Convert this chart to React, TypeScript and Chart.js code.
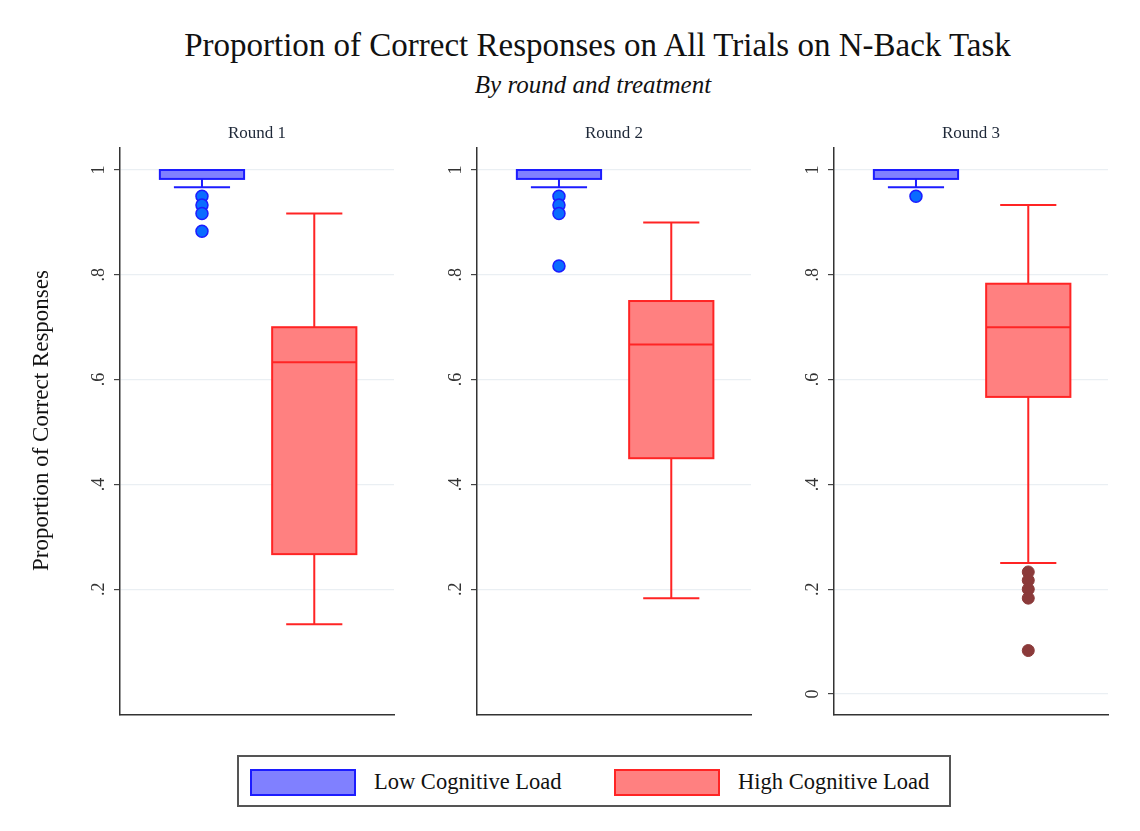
import React, { useEffect, useRef } from "react";
import { Chart, registerables } from "chart.js";

Chart.register(...registerables);

// ---------- data ----------
const ROUNDS = ["Round 1", "Round 2", "Round 3"];
const GROUPS = ["Low Cognitive Load", "High Cognitive Load"];
const GROUP_POS = [1, 2];

const LOW_WHISKER_LO = [0.967, 0.967, 0.967];
const LOW_Q1 = [0.983, 0.983, 0.983];
const LOW_MEDIAN = [1, 1, 1];
const LOW_Q3 = [1, 1, 1];
const LOW_WHISKER_HI = [1, 1, 1];
const LOW_OUTLIERS = [
  [0.95, 0.933, 0.917, 0.883],
  [0.95, 0.933, 0.917, 0.817],
  [0.95],
];

const HIGH_WHISKER_LO = [0.133, 0.183, 0.25];
const HIGH_Q1 = [0.267, 0.45, 0.567];
const HIGH_MEDIAN = [0.633, 0.667, 0.7];
const HIGH_Q3 = [0.7, 0.75, 0.783];
const HIGH_WHISKER_HI = [0.917, 0.9, 0.933];
const HIGH_OUTLIERS = [[], [], [0.233, 0.217, 0.2, 0.183, 0.083]];

const Y_TICKS = [
  [0.2, 0.4, 0.6, 0.8, 1],
  [0.2, 0.4, 0.6, 0.8, 1],
  [0, 0.2, 0.4, 0.6, 0.8, 1],
];
const Y_TITLE = "Proportion of Correct Responses";
const TITLE = "Proportion of Correct Responses on All Trials on N-Back Task";
const SUBTITLE = "By round and treatment";

// ---------- styles ----------
const FONT = '"Liberation Serif", "DejaVu Serif", serif';
const BLUE_FILL = "#8080ff";
const BLUE_LINE = "#1c1cff";
const BLUE_DOT = "#0a6cff";
const RED_FILL = "#ff8080";
const RED_LINE = "#ff2424";
const RED_DOT = "#8b3a3a";
const BOX_HALF = 0.375;
const CAP_HALF = 0.25;
const AXIS_X = [120, 477, 834];
const PLOT_W = 274;
const LEFT_W = 110;
const PANEL_TOP = 120;
const PANEL_H = 605;

function fmtTick(v: number) {
  if (v === 0) return "0";
  if (v === 1) return "1";
  return "." + Math.round(v * 10);
}

function makePanelPlugin(i: number) {
  return {
    id: "boxpanel" + i,
    beforeDatasetsDraw(chart: any) {
      const ctx = chart.ctx;
      const xs = chart.scales.x;
      const ys = chart.scales.y;
      const groups = [
        { lo: LOW_WHISKER_LO[i], q1: LOW_Q1[i], med: LOW_MEDIAN[i], q3: LOW_Q3[i], hi: LOW_WHISKER_HI[i], fill: BLUE_FILL, line: BLUE_LINE },
        { lo: HIGH_WHISKER_LO[i], q1: HIGH_Q1[i], med: HIGH_MEDIAN[i], q3: HIGH_Q3[i], hi: HIGH_WHISKER_HI[i], fill: RED_FILL, line: RED_LINE },
      ];
      groups.forEach((g, gi) => {
        const pos = GROUP_POS[gi];
        const cx = xs.getPixelForValue(pos);
        const bl = xs.getPixelForValue(pos - BOX_HALF);
        const br = xs.getPixelForValue(pos + BOX_HALF);
        const cl = xs.getPixelForValue(pos - CAP_HALF);
        const cr = xs.getPixelForValue(pos + CAP_HALF);
        const yLo = ys.getPixelForValue(g.lo);
        const yQ1 = ys.getPixelForValue(g.q1);
        const yMed = ys.getPixelForValue(g.med);
        const yQ3 = ys.getPixelForValue(g.q3);
        const yHi = ys.getPixelForValue(g.hi);
        ctx.save();
        ctx.strokeStyle = g.line;
        ctx.lineWidth = 2;
        ctx.beginPath();
        ctx.moveTo(cx, yQ1);
        ctx.lineTo(cx, yLo);
        ctx.moveTo(cl, yLo);
        ctx.lineTo(cr, yLo);
        ctx.moveTo(cx, yQ3);
        ctx.lineTo(cx, yHi);
        ctx.moveTo(cl, yHi);
        ctx.lineTo(cr, yHi);
        ctx.stroke();
        ctx.fillStyle = g.fill;
        ctx.fillRect(bl, yQ3, br - bl, yQ1 - yQ3);
        ctx.lineWidth = 2;
        ctx.strokeRect(bl, yQ3, br - bl, yQ1 - yQ3);
        ctx.beginPath();
        ctx.moveTo(bl, yMed);
        ctx.lineTo(br, yMed);
        ctx.stroke();
        ctx.restore();
      });
    },
    afterDraw(chart: any) {
      const ctx = chart.ctx;
      const ys = chart.scales.y;
      const area = chart.chartArea;
      ctx.save();
      // tick labels, rotated
      ctx.fillStyle = "#333";
      ctx.font = "18px " + FONT;
      ctx.textAlign = "center";
      ctx.textBaseline = "middle";
      ys.ticks.forEach((t: any) => {
        const y = ys.getPixelForValue(t.value);
        ctx.save();
        ctx.translate(area.left - 21, y);
        ctx.rotate(-Math.PI / 2);
        ctx.fillText(fmtTick(t.value), 0, 0);
        ctx.restore();
      });
      // panel title
      ctx.fillStyle = "#1e2838";
      ctx.font = "17px " + FONT;
      ctx.textBaseline = "middle";
      ctx.fillText(ROUNDS[i], (area.left + area.right) / 2, area.top - 14);
      // y-axis title on first panel
      if (i === 0) {
        ctx.fillStyle = "#111";
        ctx.font = "23px " + FONT;
        ctx.save();
        ctx.translate(area.left - 78, (area.top + area.bottom) / 2 - 11);
        ctx.rotate(-Math.PI / 2);
        ctx.fillText(Y_TITLE, 0, 0);
        ctx.restore();
      }
      ctx.restore();
    },
  };
}

function Panel({ i }: { i: number }) {
  const ref = useRef<HTMLCanvasElement | null>(null);
  useEffect(() => {
    if (!ref.current) return;
    const chart = new Chart(ref.current, {
      type: "scatter",
      data: {
        datasets: [
          {
            label: GROUPS[0],
            data: LOW_OUTLIERS[i].map((y) => ({ x: GROUP_POS[0], y })),
            backgroundColor: BLUE_DOT,
            borderColor: BLUE_LINE,
            borderWidth: 1.5,
            pointRadius: 6,
          },
          {
            label: GROUPS[1],
            data: HIGH_OUTLIERS[i].map((y) => ({ x: GROUP_POS[1], y })),
            backgroundColor: RED_DOT,
            borderColor: RED_DOT,
            borderWidth: 1,
            pointRadius: 6,
          },
        ],
      },
      options: {
        responsive: false,
        animation: false,
        devicePixelRatio: window.devicePixelRatio || 1,
        layout: { padding: { left: 0, top: 28, right: 10, bottom: 10 } },
        plugins: { legend: { display: false }, tooltip: { enabled: false }, title: { display: false } },
        scales: {
          x: {
            type: "linear",
            min: 0.27,
            max: 2.71,
            grid: { display: false },
            ticks: { display: false },
            border: { display: true, color: "#333", width: 1.5 },
            afterFit: (s: any) => {
              s.height = 0;
            },
          },
          y: {
            type: "linear",
            min: -0.04,
            max: 1.042,
            afterBuildTicks: (s: any) => {
              s.ticks = Y_TICKS[i].map((value) => ({ value }));
            },
            ticks: { display: false },
            grid: { color: "#eaeff3", tickColor: "#444", tickLength: 6, lineWidth: 1.2 },
            border: { display: true, color: "#333", width: 1.5 },
            afterFit: (s: any) => {
              s.width = LEFT_W;
            },
          },
        },
      } as any,
      plugins: [makePanelPlugin(i)],
    });
    return () => chart.destroy();
  }, [i]);
  const w = LEFT_W + PLOT_W + 10;
  return (
    <canvas
      ref={ref}
      width={w}
      height={PANEL_H}
      style={{ position: "absolute", left: AXIS_X[i] - LEFT_W, top: PANEL_TOP, width: w, height: PANEL_H }}
    />
  );
}

export default function App() {
  return (
    <div
      style={{
        position: "absolute",
        left: 0,
        top: 0,
        width: 1140,
        height: 831,
        background: "#fff",
        fontFamily: FONT,
        overflow: "hidden",
      }}
    >
      <div
        style={{
          position: "absolute",
          left: 0,
          width: 1195,
          top: 25,
          textAlign: "center",
          fontSize: 33,
          lineHeight: "40px",
          color: "#111",
        }}
      >
        {TITLE}
      </div>
      <div
        style={{
          position: "absolute",
          left: 0,
          width: 1186,
          top: 70,
          textAlign: "center",
          fontSize: 25,
          lineHeight: "30px",
          fontStyle: "italic",
          color: "#111",
        }}
      >
        {SUBTITLE}
      </div>
      {ROUNDS.map((_, i) => (
        <Panel key={i} i={i} />
      ))}
      <div
        style={{
          position: "absolute",
          left: 237,
          top: 755,
          width: 714,
          height: 52,
          boxSizing: "border-box",
          border: "2px solid #555",
          background: "#fff",
        }}
      >
        {GROUPS.map((g, gi) => (
          <div
            key={g}
            style={{
              position: "absolute",
              left: gi === 0 ? 11 : 375,
              top: 11,
              height: 28,
              display: "flex",
              alignItems: "center",
            }}
          >
            <div
              style={{
                width: 106,
                height: 27,
                boxSizing: "border-box",
                border: `2px solid ${gi === 0 ? BLUE_LINE : RED_LINE}`,
                background: gi === 0 ? BLUE_FILL : RED_FILL,
              }}
            />
            <span style={{ marginLeft: 18, fontSize: 22.5, color: "#111", whiteSpace: "nowrap" }}>{g}</span>
          </div>
        ))}
      </div>
    </div>
  );
}
